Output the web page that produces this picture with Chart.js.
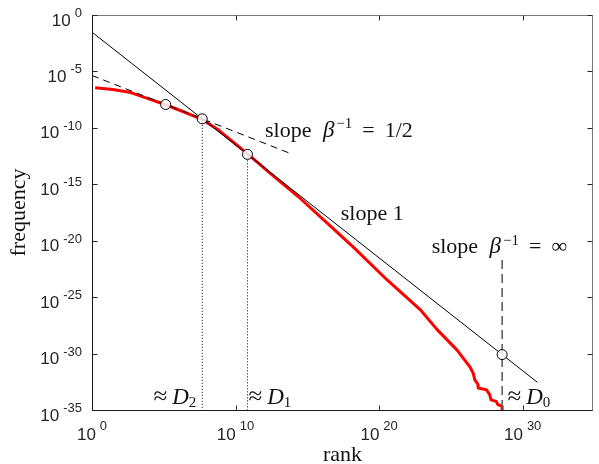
<!DOCTYPE html>
<html>
<head>
<meta charset="utf-8">
<script src="https://cdn.jsdelivr.net/npm/chart.js@4.4.0/dist/chart.umd.min.js"></script>
<style>
  body { margin: 0; background: #fff; }
  canvas { display: block; }
</style>
</head>
<body>
<canvas id="rankChart" width="599" height="464"></canvas>
<script>
const xTickExps = [0, 10, 20, 30];
const yTickExps = [0, -5, -10, -15, -20, -25, -30, -35];

// red curve: observed rank-frequency
const redLogRank = [0.22, 1.45, 2.6, 3.76, 5.09, 6.28, 7.67, 8.82, 10.84, 12.5, 14.34, 16.88, 18.26, 20.56, 22.86, 24.04, 25.4, 26.3, 26.55, 26.66, 26.9, 26.9, 27.47, 27.7, 27.8, 28.16, 28.28, 28.57, 28.57];
const redLogFreq = [-6.45, -6.6, -6.84, -7.34, -7.93, -8.53, -9.25, -10.2, -12.3, -14.12, -16.06, -19.02, -20.64, -23.48, -26.1, -27.88, -29.65, -31.13, -31.72, -32.31, -32.76, -33.05, -33.2, -33.64, -34.1, -34.24, -34.53, -34.68, -35];

// guide lines
const slopeOneLogRank = [0, 31.03];
const slopeOneLogFreq = [-1.52, -32.55];
const slopeHalfLogRank = [0, 13.77];
const slopeHalfLogFreq = [-5.36, -12.245];

// circles where the guides meet
const markerLogRank = [5.13, 7.68, 10.83, 28.57];
const markerLogFreq = [-7.93, -9.2, -12.35, -30.09];

// vertical markers for D2, D1 (dotted) and D0 (dashed)
const d2LogRank = [7.68, 7.68], d2LogFreq = [-9.2, -35];
const d1LogRank = [10.83, 10.83], d1LogFreq = [-12.35, -35];
const d0LogRank = [28.57, 28.57], d0LogFreq = [-21.7, -35];

const pts = (xs, ys) => xs.map((v, i) => ({ x: 10 ** v, y: 10 ** ys[i] }));

const SERIF = '"Liberation Serif", "Times New Roman", serif';
const R = '22px ' + SERIF, I = 'italic 23px ' + SERIF, S = '15px ' + SERIF, AP = '25px ' + SERIF;
const SANS = '"Liberation Sans", Arial, sans-serif';

// annotation text, anchored in data coordinates (left edge, baseline)
const notes = [
  { lx: 12.05, ly: -10.77, parts: [{ t: 'slope', f: R }, { t: 'β', f: I, gap: 11.5 }, { t: '\u22121', f: S, dy: -8.5, gap: 2 }, { t: '=', f: R, gap: 10 }, { t: '1/2', f: R, gap: 10 }] },
  { lx: 17.33, ly: -18.16, parts: [{ t: 'slope 1', f: R }] },
  { lx: 23.66, ly: -21.09, parts: [{ t: 'slope', f: R }, { t: 'β', f: I, gap: 11.5 }, { t: '\u22121', f: S, dy: -8.5, gap: 2 }, { t: '=', f: R, gap: 10 }, { t: '∞', f: R, gap: 10 }] },
  { lx: 4.28, ly: -34.47, parts: [{ t: '≈', f: AP }, { t: 'D', f: I, gap: 5 }, { t: '2', f: S, dy: 3, gap: 0 }] },
  { lx: 10.9, ly: -34.47, parts: [{ t: '≈', f: AP }, { t: 'D', f: I, gap: 5 }, { t: '1', f: S, dy: 3, gap: 0 }] },
  { lx: 28.94, ly: -34.47, parts: [{ t: '≈', f: AP }, { t: 'D', f: I, gap: 5 }, { t: '0', f: S, dy: 3, gap: 0 }] }
];

function drawRich(ctx, parts, x, y) {
  let cx = x;
  for (const p of parts) {
    cx += p.gap || 0;
    ctx.font = p.f;
    ctx.fillText(p.t, cx, y + (p.dy || 0));
    cx += ctx.measureText(p.t).width;
  }
}

function powLabel(ctx, exp) {
  ctx.font = '17px ' + SANS;
  const w10 = ctx.measureText('10').width;
  ctx.font = '13px ' + SANS;
  const wExp = ctx.measureText(String(exp)).width;
  return { w10, wExp, total: w10 + 4 + wExp };
}

function drawPow(ctx, exp, left, base10, baseExp) {
  const m = powLabel(ctx, exp);
  ctx.font = '17px ' + SANS;
  ctx.fillText('10', left, base10);
  ctx.font = '13px ' + SANS;
  ctx.fillText(String(exp), left + m.w10 + 4, baseExp);
}

const frame = {
  id: 'frame',
  afterDatasetsDraw(chart) {
    const { ctx, chartArea: a, scales: { x, y } } = chart;
    const L = Math.round(a.left) + 0.5, Rr = Math.round(a.right) - 0.5;
    const T = Math.round(a.top) + 0.5, B = Math.round(a.bottom) + 0.5;
    ctx.save();
    ctx.lineWidth = 1;

    // top / right box in grey
    ctx.strokeStyle = '#7a7a7a';
    ctx.beginPath();
    ctx.moveTo(L, T); ctx.lineTo(Rr, T); ctx.lineTo(Rr, B);
    ctx.stroke();

    // inward ticks
    ctx.strokeStyle = '#262626';
    ctx.beginPath();
    xTickExps.forEach(e => {
      const px = Math.round(x.getPixelForValue(10 ** e)) + 0.5;
      ctx.moveTo(px, B); ctx.lineTo(px, B - 5);
      ctx.moveTo(px, T); ctx.lineTo(px, T + 5);
    });
    yTickExps.forEach(e => {
      const py = Math.round(y.getPixelForValue(10 ** e)) + 0.5;
      ctx.moveTo(L, py); ctx.lineTo(L + 5, py);
      ctx.moveTo(Rr, py); ctx.lineTo(Rr - 5, py);
    });
    ctx.stroke();

    // left / bottom axis lines
    ctx.strokeStyle = '#1a1a1a';
    ctx.beginPath();
    ctx.moveTo(L, T); ctx.lineTo(L, B); ctx.lineTo(Rr, B);
    ctx.stroke();

    // tick labels
    ctx.fillStyle = '#262626';
    ctx.textBaseline = 'alphabetic';
    ctx.textAlign = 'left';
    yTickExps.forEach(e => {
      const py = y.getPixelForValue(10 ** e);
      const m = powLabel(ctx, e);
      drawPow(ctx, e, 82 - m.total, py + 10.5, py + 2);
    });
    xTickExps.forEach(e => {
      const px = x.getPixelForValue(10 ** e);
      const m = powLabel(ctx, e);
      drawPow(ctx, e, px - m.total / 2, a.bottom + 30, a.bottom + 20);
    });

    // annotations
    ctx.fillStyle = '#111';
    notes.forEach(n => {
      drawRich(ctx, n.parts, x.getPixelForValue(10 ** n.lx), y.getPixelForValue(10 ** n.ly));
    });

    // axis titles
    ctx.font = R;
    ctx.textAlign = 'center';
    ctx.fillText('rank', (a.left + a.right) / 2, 461);
    ctx.translate(25, (a.top + a.bottom) / 2);
    ctx.rotate(-Math.PI / 2);
    ctx.fillText('frequency', 0, 0);
    ctx.restore();
  }
};

new Chart(document.getElementById('rankChart'), {
  type: 'scatter',
  data: {
    datasets: [
      { data: pts(markerLogRank, markerLogFreq), showLine: false, pointRadius: 5, pointBackgroundColor: 'rgba(255,255,255,0.85)', pointBorderColor: '#000', pointBorderWidth: 1, order: 0 },
      { data: pts(slopeOneLogRank, slopeOneLogFreq), showLine: true, borderColor: '#000', borderWidth: 1, pointRadius: 0, order: 1 },
      { data: pts(slopeHalfLogRank, slopeHalfLogFreq), showLine: true, borderColor: '#000', borderWidth: 1, borderDash: [7, 5], pointRadius: 0, order: 1 },
      { data: pts(d2LogRank, d2LogFreq), showLine: true, borderColor: '#000', borderWidth: 1, borderDash: [1, 2], pointRadius: 0, order: 1 },
      { data: pts(d1LogRank, d1LogFreq), showLine: true, borderColor: '#000', borderWidth: 1, borderDash: [1, 2], pointRadius: 0, order: 1 },
      { data: pts(d0LogRank, d0LogFreq), showLine: true, borderColor: '#555', borderWidth: 1.5, borderDash: [9, 5], pointRadius: 0, order: 1 },
      { data: pts(redLogRank, redLogFreq), showLine: true, borderColor: '#ff0000', borderWidth: 3, pointRadius: 0, borderJoinStyle: 'round', borderCapStyle: 'butt', order: 2 }
    ]
  },
  options: {
    responsive: false,
    animation: false,
    devicePixelRatio: 1,
    layout: { padding: { left: 92, right: 1, top: 15, bottom: 54 } },
    plugins: { legend: { display: false }, tooltip: { enabled: false } },
    scales: {
      x: { type: 'logarithmic', min: 1, max: 10 ** 34.9, display: false },
      y: { type: 'logarithmic', min: 1e-35, max: 1, display: false }
    }
  },
  plugins: [frame]
});
</script>
</body>
</html>
